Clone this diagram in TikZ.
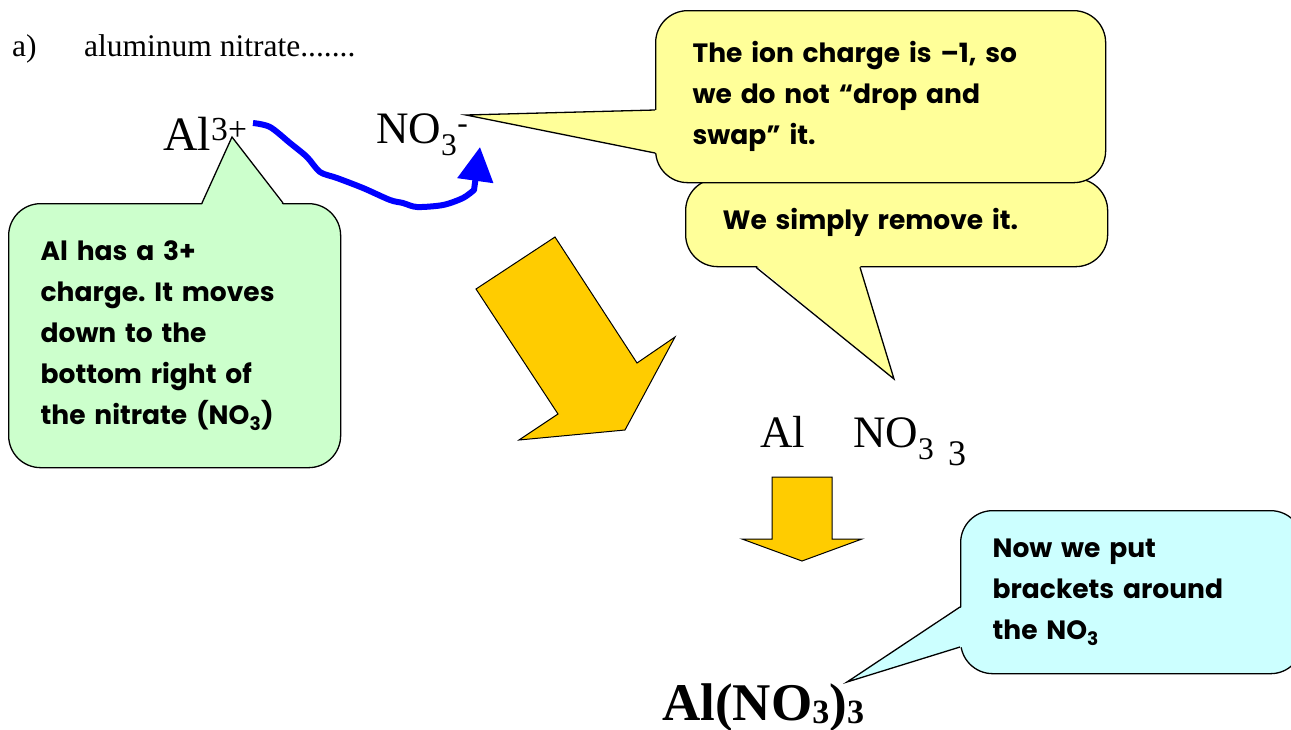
\documentclass[tikz,border=0pt]{standalone}
\usepackage{fontspec}
\setmainfont{Liberation Serif}
\newfontfamily\notefont{Poppins}
\usetikzlibrary{calc,arrows.meta}
\definecolor{notegreen}{HTML}{CCFFCC}
\definecolor{noteyellow}{HTML}{FFFF99}
\definecolor{notecyan}{HTML}{CCFFFF}
\definecolor{blockorange}{HTML}{FFCC00}
\newcommand{\lowthree}{\raisebox{-3pt}{\bfseries\fontsize{34}{34}\selectfont 3}}
\frenchspacing
\begin{document}
\begin{tikzpicture}[x=1pt,y=-1pt,
    note/.style={draw,line width=1.3pt,rounded corners=32pt,anchor=north west,align=left,
      inner ysep=0pt,font=\notefont\bfseries\fontsize{26.5}{41}\selectfont},
    pointer/.style={line width=1.3pt,line join=miter},
    serif/.style={anchor=base west,inner sep=0pt},
    block/.style={draw,line width=1pt,fill=blockorange,line join=miter}]
  \useasboundingbox (0,0) rectangle (1291,729);
  \node[serif,font=\fontsize{31.5}{31.5}\selectfont] (parta) at (12,56) {a)};
  \node[serif,font=\fontsize{31.5}{31.5}\selectfont] (title) at (84,56) {aluminum nitrate.......};
  \node[serif,font=\fontsize{48}{48}\selectfont] (alion) at (163,150) {Al\textsuperscript{3+}};
  \node[serif,font=\fontsize{45}{45}\selectfont] (nition) at (376,143) {NO\textsubscript{3}\textsuperscript{-}};
  \node[serif,font=\fontsize{45}{45}\selectfont] (alsym) at (760,447) {Al};
  \node[serif,font=\fontsize{45}{45}\selectfont] (nitsym) at (853,447) {NO\textsubscript{3}};
  \node[serif,font=\fontsize{36}{36}\selectfont] (subthree) at (948,465) {3};
  \node[serif,font=\bfseries\fontsize{53}{53}\selectfont] (formula) at (662,720) {Al(NO\lowthree)\lowthree};

  \coordinate (movestart) at (253,123);
  \coordinate (moveend) at (480,147);
  \draw[blue,line width=6pt,line join=round,-{Triangle[length=34pt,width=35pt]}]
    plot[smooth,tension=0.5] coordinates {(movestart) (270,127) (290,143) (307,157) (320,172) (337,178)
      (363,188) (390,200) (403,203) (417,207) (443,205) (463,198) (474,190)} -- (moveend);

  \draw[block] (555,237) -- (476,289) -- (558,414) -- (519,440) -- (625,430) -- (675,337) -- (637,363) -- cycle;
  \draw[block] (772,477) -- (832,477) -- (832,539) -- (862,539) -- (802,561) -- (742,539) -- (772,539) -- cycle;

  \node[note,fill=notegreen,minimum width=332pt,minimum height=264pt,text width=268pt,inner xsep=32pt]
    (alnote) at (8,203) {Al has a 3+\\charge. It moves\\down to the\\bottom right of\\the nitrate (NO\textsubscript{3})};
  \coordinate (altip) at (232,137);
  \fill[notegreen] ($(alnote.north west)+(194,2)$) -- (altip) -- ($(alnote.north west)+(275,2)$) -- cycle;
  \draw[pointer] ($(alnote.north west)+(194,0)$) -- (altip) -- ($(alnote.north west)+(275,0)$);

  \node[note,fill=noteyellow,minimum width=422pt,minimum height=88pt,text width=348pt,inner xsep=37pt]
    (removenote) at (685,178) {We simply remove it.};
  \coordinate (removetip) at (894,379);
  \fill[noteyellow] ($(removenote.south west)+(71,-2)$) -- (removetip) -- ($(removenote.south west)+(175,-2)$) -- cycle;
  \draw[pointer] ($(removenote.south west)+(71,0)$) -- (removetip) -- ($(removenote.south west)+(175,0)$);

  \node[note,fill=noteyellow,minimum width=450pt,minimum height=172pt,text width=376pt,inner xsep=37pt]
    (chargenote) at (655,10) {The ion charge is –1, so\\we do not “drop and\\swap” it.};
  \coordinate (chargetip) at (466,115);
  \fill[noteyellow] ($(chargenote.north west)+(2,100)$) -- (chargetip) -- ($(chargenote.north west)+(2,143)$) -- cycle;
  \draw[pointer] ($(chargenote.north west)+(0,100)$) -- (chargetip) -- ($(chargenote.north west)+(0,143)$);

  \node[note,fill=notecyan,minimum width=342pt,minimum height=163pt,text width=278pt,inner xsep=32pt]
    (bracketnote) at (960,510) {Now we put\\brackets around\\the NO\textsubscript{3}};
  \coordinate (brackettip) at (847,682);
  \fill[notecyan] ($(bracketnote.north west)+(2,97)$) -- (brackettip) -- ($(bracketnote.north west)+(2,137)$) -- cycle;
  \draw[pointer] ($(bracketnote.north west)+(0,97)$) -- (brackettip) -- ($(bracketnote.north west)+(0,137)$);
\end{tikzpicture}
\end{document}
